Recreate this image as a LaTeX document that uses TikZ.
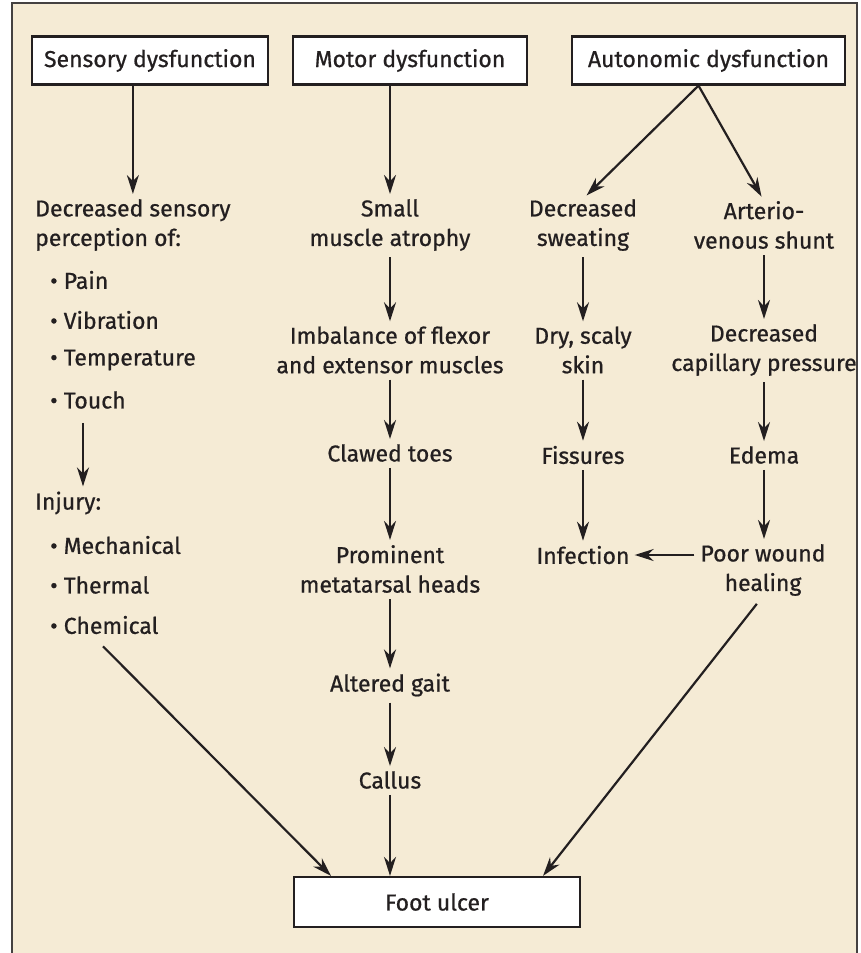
\documentclass[tikz,border=0pt]{standalone}
\usepackage{fontspec}
\setmainfont{Fira Sans}[FakeBold=0.7]
\usetikzlibrary{arrows.meta}
\usetikzlibrary{positioning}

\definecolor{paper}{RGB}{245,235,213}
\definecolor{ink}{RGB}{35,31,32}

\begin{document}
\begin{tikzpicture}[x=1pt,y=1pt]
	\tikzstyle{every node}+=[inner sep=0pt, text=ink, font=\fontsize{23}{29.5}\selectfont]
	\tikzstyle{headbox}=[draw=ink, line width=2.2pt, fill=white, minimum height=48pt]
	\tikzstyle{entry}=[align=center]
	\tikzstyle{item}=[anchor=west, align=left]
	\tikzstyle{link}=[draw=ink, line width=2.2pt, -{Stealth[length=19pt,width=12pt]}, shorten <=6pt, shorten >=5pt]
	\useasboundingbox (0,0) rectangle (860,-953);
	\fill [white] (0,0) rectangle (860,-953);
	\filldraw [fill=paper, draw=ink!85, line width=1.6pt] (12,-3) rectangle (857,-980);
	% top boxes
	\node [headbox, minimum width=236pt] (sens) at (150,-60.5) {Sensory dysfunction};
	\node [headbox, minimum width=234pt] (mot) at (410,-60.5) {Motor dysfunction};
	\node [headbox, minimum width=273pt] (auto) at (708.5,-60.5) {Autonomic dysfunction};
	\node [headbox, minimum width=286pt, minimum height=50pt] (ulcer) at (437,-902) {Foot ulcer};
	% sensory column
	\node [item] (dec) at (35,-225) {Decreased sensory\\perception of:};
	\node [item] (pain) at (50,-280) {\textbullet\ Pain};
	\node [item] (vib) at (50,-320) {\textbullet\ Vibration};
	\node [item] (temp) at (50,-360) {\textbullet\ Temperature};
	\node [item] (touch) at (50,-400) {\textbullet\ Touch};
	\node [item] (injury) at (35,-503) {Injury:};
	\node [item] (mech) at (50,-545) {\textbullet\ Mechanical};
	\node [item] (therm) at (50,-585) {\textbullet\ Thermal};
	\node [item] (chem) at (50,-625) {\textbullet\ Chemical};
	\coordinate (touchout) at ([xshift=33pt,yshift=-14pt]touch.south west);
	\coordinate (chemout) at ([xshift=53pt,yshift=-12pt]chem.south west);
	% motor column
	\node [entry] (small) at (390,-225) {Small\\muscle atrophy};
	\node [entry] (imb) at (390,-350) {Imbalance of flexor\\and extensor muscles};
	\node [entry] (claw) at (390,-453) {Clawed toes};
	\node [entry] (prom) at (390,-569) {Prominent\\metatarsal heads};
	\node [entry] (gait) at (390,-685) {Altered gait};
	\node [entry] (callus) at (390,-780) {Callus};
	% autonomic columns
	\node [entry] (sweat) at (583,-225) {Decreased\\sweating};
	\node [entry] (dry) at (583,-350) {Dry, scaly\\skin};
	\node [entry] (fiss) at (583,-455) {Fissures};
	\node [entry] (infect) at (583,-555) {Infection};
	\node [entry] (shunt) at (764,-225) {Arterio-\\venous shunt};
	\node [entry] (cap) at (764,-350) {Decreased\\capillary pressure};
	\node [entry] (edema) at (764,-455) {Edema};
	\node [entry] (heal) at (763,-570) {Poor wound\\healing};
	% arrows
	\draw [link, shorten <=0pt] (sens.south -| dec.north) -- (dec.north);
	\draw [link, shorten <=0pt] (mot.south -| small.north) -- (small.north);
	\draw [link, shorten <=0pt] ([xshift=-10pt]auto.south) -- (sweat.north);
	\draw [link, shorten <=0pt] ([xshift=-10pt]auto.south) -- (shunt.north);
	\draw [link, shorten <=0pt] (touchout) -- (touchout |- injury.north);
	\draw [link] (small) -- (imb);
	\draw [link] (imb) -- (claw);
	\draw [link] (claw) -- (prom);
	\draw [link] (prom) -- (gait);
	\draw [link] (gait) -- (callus);
	\draw [link, shorten >=0pt] (callus) -- (callus.south |- ulcer.north);
	\draw [link] (sweat) -- (dry);
	\draw [link] (dry) -- (fiss);
	\draw [link] (fiss) -- (infect);
	\draw [link] (shunt) -- (cap);
	\draw [link] (cap) -- (edema);
	\draw [link] (edema) -- (edema |- heal.north);
	\draw [link] (heal.west |- infect.east) -- (infect.east);
	\draw [link, shorten <=0pt, shorten >=0pt] (chemout) -- ([xshift=-106pt]ulcer.north);
	\draw [link, shorten <=10pt, shorten >=0pt] (heal.south) -- ([xshift=106pt]ulcer.north);
\end{tikzpicture}
\end{document}
